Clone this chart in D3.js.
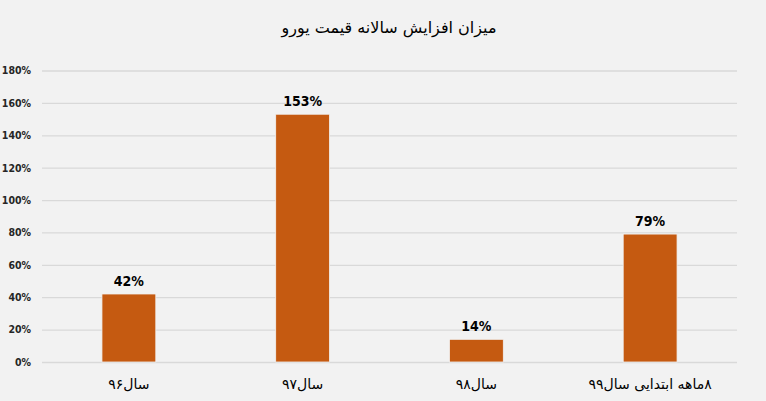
<!DOCTYPE html>
<html>
<head>
<meta charset="utf-8">
<script src="https://cdn.jsdelivr.net/npm/d3@7"></script>
<style>
  body { margin: 0; background: #f2f2f2; }
  svg { display: block; }
</style>
</head>
<body>
<svg id="chart"></svg>
<script>
const chartTitle = "میزان افزایش سالانه قیمت یورو";
const categories = ["سال۹۶", "سال۹۷", "سال۹۸", "۸ماهه ابتدایی سال۹۹"];
const values = [0.42, 1.53, 0.14, 0.79];
const yTicks = [0, 0.2, 0.4, 0.6, 0.8, 1.0, 1.2, 1.4, 1.6, 1.8];

const width = 766, height = 401;
const margin = { top: 70, right: 29, bottom: 39, left: 42 };

const svg = d3.select("#chart")
    .attr("width", width)
    .attr("height", height);

svg.append("rect")
    .attr("width", width)
    .attr("height", height)
    .attr("fill", "#f2f2f2");

const x = d3.scaleBand()
    .domain(categories)
    .range([margin.left, width - margin.right])
    .paddingInner(0.69)
    .paddingOuter(0.345);

const y = d3.scaleLinear()
    .domain([0, 1.8])
    .range([height - margin.bottom, margin.top + 0.5]);

// grid
const yAxis = svg.append("g")
    .attr("transform", `translate(${margin.left},0)`)
    .call(d3.axisLeft(y)
        .tickValues(yTicks)
        .tickSize(-(width - margin.left - margin.right))
        .tickPadding(11)
        .tickFormat(d3.format(".0%")));

yAxis.select(".domain").remove();
yAxis.selectAll(".tick line")
    .attr("stroke", "#d9d9d9")
    .attr("stroke-width", 1.3);
yAxis.selectAll(".tick text")
    .attr("fill", "#262626")
    .style("font-family", "'Liberation Sans Narrow', 'DejaVu Sans Condensed', Arial, sans-serif")
    .style("font-size", "10.5px")
    .style("font-weight", "bold");

// bars
svg.selectAll("rect.bar")
    .data(values)
    .enter().append("rect")
    .attr("class", "bar")
    .attr("x", (d, i) => x(categories[i]))
    .attr("width", x.bandwidth())
    .attr("y", d => y(d))
    .attr("height", d => y(0) - y(d))
    .attr("fill", "#c55a11")
    .attr("stroke", "#f2f2f2")
    .attr("stroke-width", 0.8);

// value labels
svg.selectAll("text.val")
    .data(values)
    .enter().append("text")
    .attr("class", "val")
    .attr("x", (d, i) => x(categories[i]) + x.bandwidth() / 2)
    .attr("y", d => y(d) - 8)
    .attr("text-anchor", "middle")
    .attr("fill", "#000")
    .style("font-family", "'Liberation Sans Narrow', 'DejaVu Sans Condensed', Arial, sans-serif")
    .style("font-size", "14px")
    .style("font-weight", "bold")
    .text(d => Math.round(d * 100) + "%");

// category labels
svg.selectAll("text.cat")
    .data(categories)
    .enter().append("text")
    .attr("class", "cat")
    .attr("x", d => x(d) + x.bandwidth() / 2)
    .attr("y", height - 12)
    .attr("text-anchor", "middle")
    .attr("direction", "rtl")
    .attr("fill", "#000")
    .style("font-family", "'DejaVu Sans', sans-serif")
    .style("font-size", "14px")
    .text(d => d);

// title
svg.append("text")
    .attr("x", 389)
    .attr("y", 33)
    .attr("text-anchor", "middle")
    .attr("direction", "rtl")
    .attr("fill", "#000")
    .style("font-family", "'DejaVu Sans', sans-serif")
    .style("font-size", "16px")
    .text(chartTitle);
</script>
</body>
</html>
